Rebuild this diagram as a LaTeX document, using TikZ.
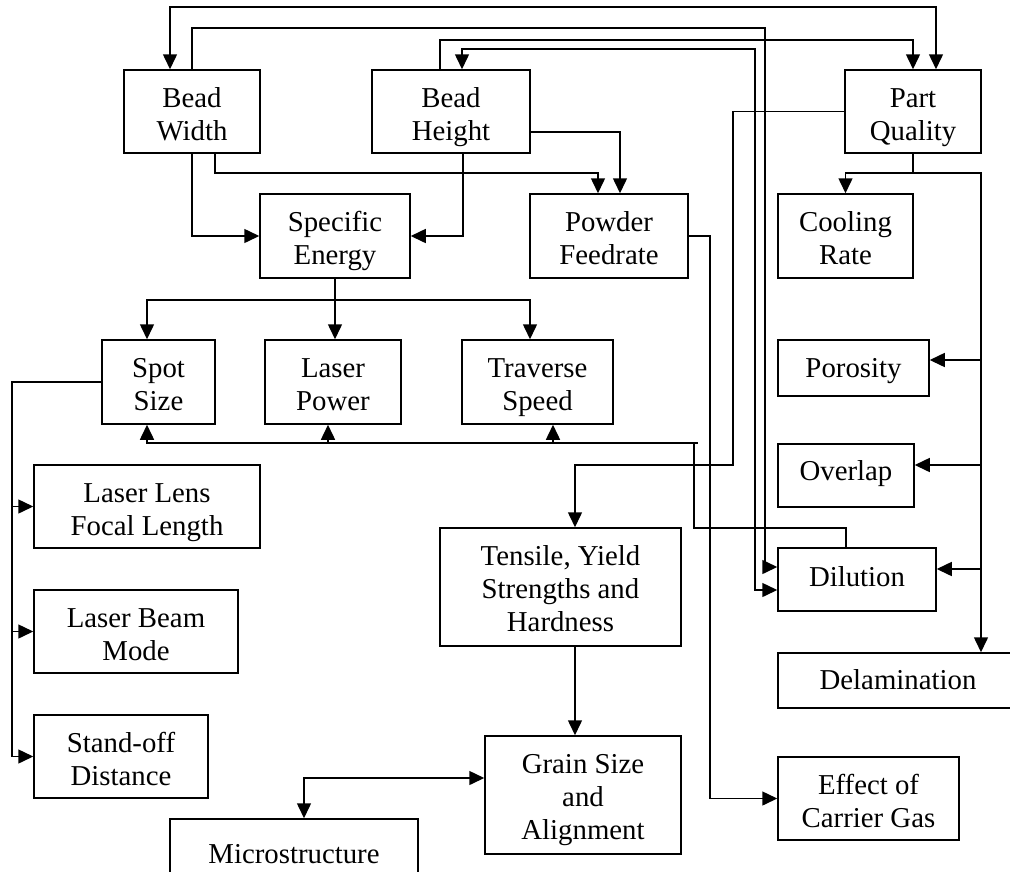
\documentclass[tikz,border=0pt]{standalone}
\usepackage{fontspec}
\setmainfont{Liberation Serif}
\usetikzlibrary{arrows.meta}
\tikzset{
  box/.style={draw, line width=1.5pt, align=center, inner sep=0pt, text depth=0pt,
    font=\fontsize{28.8}{33}\selectfont},
  two/.style={box, text height=57pt},
  three/.style={box, text height=89pt},
  conn/.style={line width=1.5pt},
  tip/.tip={Triangle[length=15pt,width=14pt]},
  arr/.style={conn, -tip},
  dbl/.style={conn, tip-tip}
}
\begin{document}
\begin{tikzpicture}[x=1pt,y=-1pt]
\useasboundingbox (0,0) rectangle (1010,871);
\clip (0,0) rectangle (1010,871);
% boxes
\node[two, minimum width=136pt, minimum height=83pt] (bw) at (192,111.5) {Bead\\Width};
\node[two, minimum width=158pt, minimum height=83pt] (bh) at (451,111.5) {Bead\\Height};
\node[two, minimum width=136pt, minimum height=83pt] (pq) at (913,111.5) {Part\\Quality};
\node[two, minimum width=150pt, minimum height=84pt] (se) at (335,236) {Specific\\Energy};
\node[two, minimum width=158pt, minimum height=84pt] (pf) at (609,236) {Powder\\Feedrate};
\node[two, minimum width=135pt, minimum height=84pt] (cr) at (845.5,236) {Cooling\\Rate};
\node[two, minimum width=113pt, minimum height=84pt] (ss) at (158.5,382) {Spot\\Size};
\node[two, minimum width=136pt, minimum height=84pt] (lp) at (333,382) {Laser\\Power};
\node[two, minimum width=151pt, minimum height=84pt] (ts) at (537.5,382) {Traverse\\Speed};
\node[box, text height=18pt, minimum width=151pt, minimum height=56pt] (po) at (853.5,368) {Porosity};
\node[box, text height=9pt, minimum width=136pt, minimum height=63pt] (ov) at (846,475.5) {Overlap};
\node[two, minimum width=226pt, minimum height=83pt] (ll) at (147,506.5) {Laser Lens\\Focal Length};
\node[three, minimum width=241pt, minimum height=118pt] (ty) at (560.5,587) {Tensile, Yield\\Strengths and\\Hardness};
\node[box, text height=13pt, minimum width=158pt, minimum height=63pt] (di) at (857,579.5) {Dilution};
\node[two, minimum width=204pt, minimum height=83pt] (lb) at (136,631.5) {Laser Beam\\Mode};
\node[box, text height=17pt, minimum width=240pt, minimum height=55pt] (de) at (898,680.5) {Delamination};
\node[two, minimum width=174pt, minimum height=83pt] (sd) at (121,756.5) {Stand-off\\Distance};
\node[three, minimum width=196pt, minimum height=118pt] (gs) at (583,795) {Grain Size\\and\\Alignment};
\node[two, minimum width=181pt, minimum height=83pt] (ec) at (868.5,798.5) {Effect of\\Carrier Gas};
\node[box, text height=25pt, minimum width=248pt, minimum height=63pt] (ms) at (294,850.5) {Microstructure};
% top connectors
\draw[dbl] ([xshift=-22pt]bw.north) |- (550,7) -| ([xshift=23pt]pq.north);
\draw[arr] (bw.north) |- (765,28) |- ([yshift=12.5pt]di.west);
\draw[arr] ([xshift=-11pt]bh.north) |- (700,40) -| (pq.north);
\draw[dbl] ([xshift=11pt]bh.north) |- (755,49) |- ([yshift=-10.5pt]di.west);
% to specific energy and powder feedrate
\draw[arr] (bw.south) |- (se.west);
\draw[arr] ([xshift=12pt]bh.south) |- (se.east);
\draw[arr] ([xshift=23pt]bw.south) |- (500,173) -| ([xshift=-11pt]pf.north);
\draw[arr] ([yshift=-20.5pt]bh.east) -| ([xshift=11pt]pf.north);
\draw[arr] (pf.east) -| (710,500) |- (ec.west);
% part quality
\draw[arr] (pq.west) -| (733,465) -| ([xshift=14.5pt]ty.north);
\draw[arr] (pq.south) |- (880,173) -| (cr.north);
\draw[arr] (pq.south) |- (950,173) -| ([xshift=83pt]de.north);
\coordinate (bpo) at (981,360);
\coordinate (bov) at (981,465);
\coordinate (bdi) at (981,569);
\draw[arr] (bpo) -- ([yshift=8pt]po.east);
\draw[arr] (bov) -- ([yshift=10.5pt]ov.east);
\draw[arr] (bdi) -- ([yshift=10.5pt]di.east);
% specific energy to parameters
\draw[arr] (se.south) -- ++(0,21) -| ([xshift=-11.5pt]ss.north);
\draw[arr] (se.south) -- ++(0,21) -| ([xshift=-7.5pt]ts.north);
\draw[arr] (se.south) -- ([xshift=2pt]lp.north);
% dilution back to parameters
\draw[arr] ([xshift=-11pt]di.north) |- (694,528) |- (600,443) -| ([xshift=-11.5pt]ss.south);
\draw[conn] (694,443) -- (698,443);
\coordinate (blp) at (328,443);
\coordinate (bts) at (553,443);
\draw[arr] (blp) -- ([xshift=-5pt]lp.south);
\draw[arr] (bts) -- ([xshift=15.5pt]ts.south);
% spot size to optics
\draw[arr] (ss.west) -| (12,600) |- (sd.west);
\coordinate (bll) at (12,506.5);
\coordinate (blb) at (12,631.5);
\draw[arr] (bll) -- (ll.west);
\draw[arr] (blb) -- (lb.west);
% mechanical properties
\draw[arr] ([xshift=14.5pt]ty.south) -- ([xshift=-8pt]gs.north);
\draw[dbl] ([yshift=17pt]gs.west) -| ([xshift=10pt]ms.north);
\end{tikzpicture}
\end{document}
